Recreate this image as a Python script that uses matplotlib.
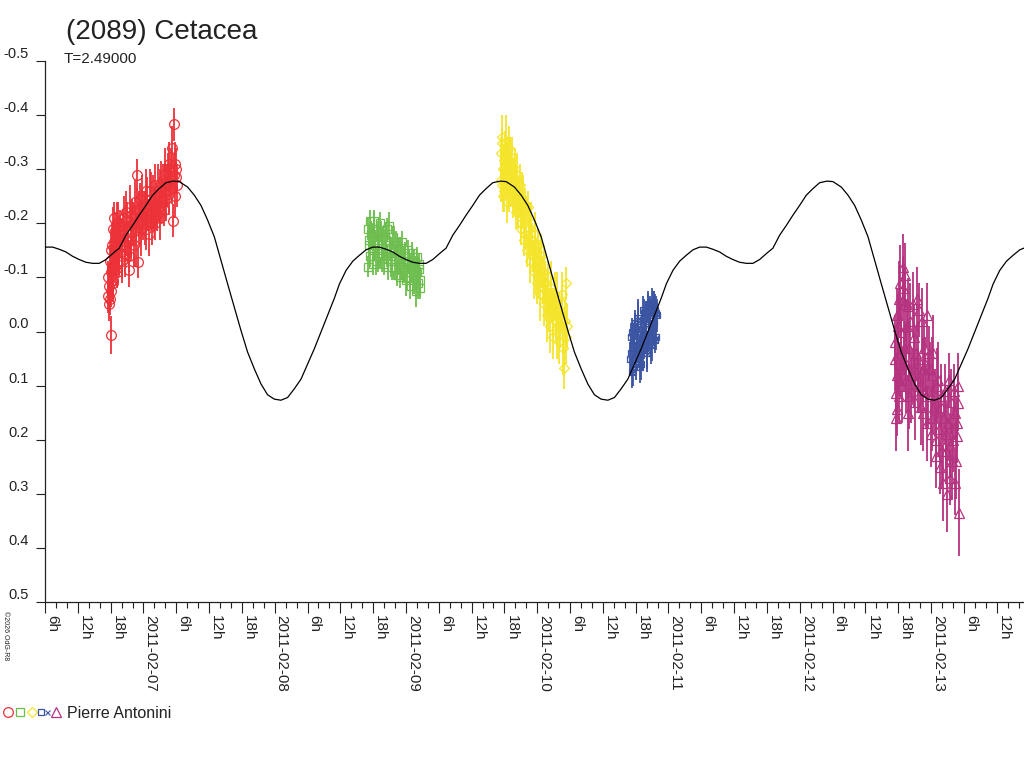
import numpy as np
import matplotlib
matplotlib.use("Agg")
import matplotlib.pyplot as plt
from matplotlib.ticker import FixedLocator, FuncFormatter, MultipleLocator
from matplotlib.legend_handler import HandlerTuple
from datetime import date, timedelta

plt.rcParams["font.family"] = ["Liberation Sans", "DejaVu Sans"]
plt.rcParams["axes.unicode_minus"] = False

# time axis: hours since 2011-02-06 00:00
START_DAY = date(2011, 2, 6)
X_RANGE_H = (6.0, 185.0)

# fitted light curve: one period (hours after maximum, mag)
PERIOD_H = 2.49 * 24
PEAK_H = 29.46
curve_phase_h = [0.0, 1.10, 2.61, 3.84, 5.06, 6.27, 7.50, 8.72, 9.93, 11.15,
                 12.37, 13.58, 14.81, 16.03, 17.24, 18.46, 19.69, 20.90, 22.12,
                 23.35, 24.56, 25.78, 27.00, 28.21, 29.43, 30.38, 31.59, 32.82,
                 34.04, 35.25, 36.47, 37.70, 38.90, 40.13, 41.35, 42.56, 43.78,
                 45.01, 46.22, 47.44, 48.67, 49.87, 51.10, 52.32, 53.53, 54.75,
                 55.98, 57.18, 58.41]
curve_mag = [-0.278, -0.277, -0.267, -0.252, -0.233, -0.206, -0.175, -0.131,
             -0.088, -0.045, -0.002, 0.038, 0.069, 0.097, 0.117, 0.125, 0.127,
             0.122, 0.106, 0.088, 0.060, 0.032, 0.001, -0.030, -0.061, -0.088,
             -0.113, -0.130, -0.141, -0.151, -0.156, -0.156, -0.152, -0.147,
             -0.139, -0.133, -0.128, -0.126, -0.126, -0.133, -0.144, -0.154,
             -0.178, -0.196, -0.215, -0.233, -0.252, -0.264, -0.275]

# observing sessions (all by Pierre Antonini): (hour, mag, error)
red_obs = [
    (17.5, -0.065, .03), (17.6, -0.10, .03), (17.7, -0.05, .03),
    (17.75, -0.085, .04), (17.8, -0.13, .03), (17.9, -0.06, .03),
    (18.0, -0.11, .04), (18.05, 0.007, .035), (18.1, -0.075, .03),
    (18.15, -0.15, .04), (18.2, -0.16, .04), (18.3, -0.12, .03),
    (18.35, -0.095, .04), (18.4, -0.19, .04), (18.5, -0.09, .03),
    (18.55, -0.14, .05), (18.6, -0.21, .03), (18.7, -0.165, .04),
    (18.8, -0.14, .04), (18.9, -0.115, .03), (19.0, -0.17, .05),
    (19.1, -0.20, .04), (19.2, -0.11, .03), (19.3, -0.15, .04),
    (19.4, -0.20, .04), (19.5, -0.13, .03), (19.6, -0.155, .05),
    (19.75, -0.185, .04), (19.9, -0.18, .03), (20.0, -0.14, .04),
    (20.1, -0.13, .04), (20.25, -0.195, .03), (20.4, -0.21, .04),
    (20.55, -0.15, .05), (20.7, -0.16, .03), (20.85, -0.22, .04),
    (21.0, -0.19, .05), (21.15, -0.165, .04), (21.3, -0.14, .03),
    (21.4, -0.113, .03), (21.5, -0.23, .04), (21.65, -0.185, .05),
    (21.8, -0.17, .04), (21.95, -0.215, .03), (22.1, -0.20, .04),
    (22.25, -0.16, .04), (22.4, -0.24, .04), (22.55, -0.19, .03),
    (22.7, -0.17, .05), (22.85, -0.225, .04), (22.9, -0.289, .03),
    (22.95, -0.128, .03), (23.1, -0.20, .04), (23.2, -0.22, .04),
    (23.35, -0.245, .03), (23.5, -0.19, .05), (23.65, -0.215, .04),
    (23.8, -0.25, .04), (23.95, -0.20, .03), (24.1, -0.23, .03),
    (24.25, -0.21, .05), (24.4, -0.26, .04), (24.55, -0.19, .04),
    (24.7, -0.235, .05), (24.85, -0.215, .03), (25.0, -0.18, .04),
    (25.15, -0.26, .04), (25.3, -0.22, .03), (25.45, -0.245, .05),
    (25.6, -0.20, .04), (25.75, -0.24, .05), (25.9, -0.225, .04),
    (26.05, -0.20, .03), (26.2, -0.27, .04), (26.35, -0.235, .04),
    (26.5, -0.215, .03), (26.65, -0.26, .05), (26.8, -0.23, .03),
    (26.95, -0.25, .05), (27.1, -0.21, .04), (27.25, -0.275, .04),
    (27.4, -0.24, .04), (27.55, -0.28, .03), (27.7, -0.225, .03),
    (27.85, -0.26, .05), (28.0, -0.29, .05), (28.15, -0.245, .04),
    (28.3, -0.27, .04), (28.45, -0.30, .03), (28.6, -0.255, .04),
    (28.75, -0.31, .04), (28.9, -0.28, .03), (29.05, -0.30, .04),
    (29.2, -0.265, .03), (29.3, -0.34, .04), (29.45, -0.205, .03),
    (29.5, -0.29, .04), (29.6, -0.383, .03), (29.7, -0.31, .04),
    (29.8, -0.25, .04), (29.9, -0.285, .03), (30.0, -0.30, .04),
    (30.1, -0.27, .04),
]

green_obs = [
    (65.0, -0.19, .02), (65.1, -0.12, .02), (65.2, -0.17, .025),
    (65.3, -0.16, .025), (65.4, -0.205, .02), (65.5, -0.14, .02),
    (65.65, -0.18, .025), (65.8, -0.175, .025), (65.9, -0.125, .02),
    (66.0, -0.15, .02), (66.15, -0.19, .03), (66.2, -0.205, .02),
    (66.35, -0.16, .025), (66.5, -0.13, .025), (66.65, -0.185, .02),
    (66.8, -0.17, .02), (66.95, -0.14, .03), (67.1, -0.145, .03),
    (67.25, -0.20, .02), (67.4, -0.185, .02), (67.55, -0.135, .025),
    (67.7, -0.155, .025), (67.85, -0.175, .02), (68.0, -0.125, .02),
    (68.15, -0.16, .03), (68.3, -0.17, .03), (68.45, -0.19, .02),
    (68.6, -0.14, .02), (68.75, -0.12, .025), (68.9, -0.195, .025),
    (69.05, -0.15, .02), (69.2, -0.155, .02), (69.35, -0.13, .03),
    (69.5, -0.12, .025), (69.65, -0.175, .02), (69.8, -0.165, .03),
    (69.95, -0.115, .02), (70.1, -0.14, .02), (70.25, -0.16, .025),
    (70.4, -0.105, .02), (70.55, -0.135, .03), (70.7, -0.15, .025),
    (70.85, -0.10, .02), (71.0, -0.125, .03), (71.15, -0.155, .02),
    (71.3, -0.165, .02), (71.45, -0.12, .025), (71.6, -0.115, .025),
    (71.75, -0.145, .02), (71.9, -0.14, .02), (72.05, -0.095, .03),
    (72.2, -0.10, .025), (72.35, -0.15, .02), (72.5, -0.13, .02),
    (72.65, -0.085, .025), (72.8, -0.11, .03), (72.95, -0.125, .02),
    (73.1, -0.145, .02), (73.25, -0.105, .025), (73.4, -0.095, .025),
    (73.55, -0.13, .02), (73.7, -0.12, .02), (73.85, -0.075, .03),
    (74.0, -0.137, .02), (74.1, -0.11, .025), (74.2, -0.09, .03),
    (74.3, -0.125, .02), (74.4, -0.115, .02), (74.5, -0.095, .025),
    (74.6, -0.08, .02),
]

yellow_obs = [
    (89.4, -0.33, .03), (89.45, -0.28, .04), (89.5, -0.27, .03),
    (89.55, -0.36, .04), (89.6, -0.348, .03), (89.7, -0.30, .04),
    (89.8, -0.25, .03), (89.9, -0.317, .03), (90.0, -0.26, .04),
    (90.1, -0.33, .04), (90.2, -0.35, .05), (90.3, -0.28, .03),
    (90.4, -0.29, .03), (90.5, -0.24, .04), (90.6, -0.32, .04),
    (90.7, -0.30, .03), (90.8, -0.25, .03), (90.9, -0.34, .04),
    (91.0, -0.31, .05), (91.15, -0.26, .03), (91.3, -0.28, .04),
    (91.45, -0.32, .04), (91.6, -0.24, .03), (91.75, -0.27, .05),
    (91.9, -0.30, .04), (92.05, -0.22, .03), (92.2, -0.26, .05),
    (92.35, -0.29, .04), (92.5, -0.22, .03), (92.65, -0.25, .04),
    (92.8, -0.27, .04), (92.95, -0.19, .03), (93.1, -0.20, .04),
    (93.25, -0.245, .05), (93.4, -0.24, .05), (93.55, -0.17, .03),
    (93.7, -0.18, .03), (93.85, -0.225, .04), (94.0, -0.21, .04),
    (94.15, -0.15, .03), (94.3, -0.23, .03), (94.45, -0.19, .05),
    (94.6, -0.16, .05), (94.75, -0.13, .04), (94.9, -0.20, .04),
    (95.05, -0.17, .03), (95.2, -0.14, .03), (95.35, -0.11, .05),
    (95.5, -0.18, .04), (95.65, -0.15, .04), (95.8, -0.12, .05),
    (95.95, -0.09, .04), (96.1, -0.16, .03), (96.25, -0.13, .04),
    (96.4, -0.10, .04), (96.55, -0.07, .05), (96.7, -0.14, .04),
    (96.85, -0.11, .03), (97.0, -0.08, .03), (97.15, -0.05, .04),
    (97.3, -0.11, .05), (97.45, -0.09, .04), (97.6, -0.06, .04),
    (97.75, -0.03, .05), (97.9, -0.10, .03), (98.05, -0.07, .04),
    (98.2, -0.04, .04), (98.35, -0.01, .05), (98.5, -0.08, .05),
    (98.65, -0.05, .03), (98.8, 0.011, .04), (98.95, -0.03, .04),
    (99.1, -0.05, .03), (99.25, -0.07, .04), (99.4, -0.02, .04),
    (99.55, 0.00, .05), (99.7, -0.06, .05), (99.85, -0.04, .03),
    (100.0, 0.02, .04), (100.15, -0.01, .04), (100.3, -0.03, .03),
    (100.45, -0.07, .04), (100.6, -0.05, .04), (100.75, 0.03, .05),
    (100.9, 0.067, .04), (101.05, -0.02, .04), (101.2, -0.089, .03),
    (101.3, 0.01, .05), (101.4, -0.01, .04),
]

blue_obs = [
    (113.0, 0.05, .03), (113.1, 0.04, .03), (113.2, 0.01, .025),
    (113.3, 0.00, .025), (113.4, 0.075, .03), (113.5, 0.07, .03),
    (113.6, 0.03, .035), (113.7, 0.02, .035), (113.8, -0.015, .025),
    (113.9, -0.01, .025), (114.0, 0.06, .03), (114.1, 0.05, .03),
    (114.2, 0.025, .03), (114.3, 0.015, .03), (114.4, -0.025, .035),
    (114.5, -0.02, .035), (114.6, 0.04, .025), (114.7, 0.03, .025),
    (114.8, 0.065, .03), (114.9, 0.06, .03), (115.0, 0.005, .03),
    (115.1, -0.005, .03), (115.2, 0.035, .035), (115.3, 0.025, .035),
    (115.4, -0.04, .025), (115.5, -0.035, .025), (115.6, 0.02, .03),
    (115.7, 0.01, .03), (115.8, -0.025, .03), (115.9, -0.02, .03),
    (116.0, 0.04, .035), (116.1, 0.035, .035), (116.2, -0.05, .025),
    (116.3, -0.045, .025), (116.4, 0.005, .03), (116.5, -0.005, .03),
    (116.6, -0.035, .03), (116.7, -0.03, .03), (116.8, 0.025, .035),
    (116.9, 0.02, .035), (117.0, -0.055, .025), (117.1, -0.05, .025),
    (117.2, -0.01, .03), (117.3, -0.015, .03), (117.4, -0.045, .03),
    (117.5, -0.04, .03), (117.6, 0.015, .025), (117.7, 0.01, .025),
    (117.8, -0.035, .03), (117.9, -0.03, .03),
]

magenta_obs = [
    (161.4, 0.05, .06), (161.5, 0.02, .05), (161.55, 0.16, .06),
    (161.6, 0.113, .06), (161.7, -0.03, .05), (161.75, 0.08, .07),
    (161.8, 0.143, .05), (161.9, 0.044, .06), (162.0, -0.01, .06),
    (162.1, -0.06, .07), (162.2, 0.12, .05), (162.3, 0.07, .05),
    (162.4, -0.09, .07), (162.5, 0.00, .06), (162.6, 0.04, .06),
    (162.7, 0.10, .07), (162.8, -0.12, .06), (162.9, -0.08, .06),
    (163.0, 0.06, .05), (163.1, 0.03, .05), (163.2, -0.05, .07),
    (163.3, -0.104, .06), (163.4, 0.09, .06), (163.5, 0.06, .07),
    (163.6, -0.01, .05), (163.7, -0.048, .05), (163.8, 0.15, .07),
    (163.9, 0.12, .06), (164.05, 0.03, .05), (164.2, -0.02, .07),
    (164.35, 0.11, .06), (164.5, 0.08, .05), (164.65, -0.05, .06),
    (164.8, 0.01, .06), (164.95, 0.07, .07), (165.1, 0.13, .07),
    (165.25, 0.04, .05), (165.4, -0.06, .06), (165.55, 0.09, .06),
    (165.7, 0.05, .07), (165.85, -0.04, .05), (166.0, 0.10, .05),
    (166.15, 0.14, .07), (166.3, -0.02, .06), (166.45, 0.07, .06),
    (166.6, 0.15, .07), (166.75, 0.03, .05), (166.9, 0.06, .05),
    (167.05, 0.12, .06), (167.2, -0.03, .06), (167.35, 0.17, .07),
    (167.5, 0.11, .07), (167.65, 0.04, .05), (167.8, 0.07, .05),
    (167.95, 0.19, .06), (168.1, 0.16, .06), (168.25, 0.08, .07),
    (168.4, 0.04, .07), (168.55, 0.14, .05), (168.7, 0.12, .05),
    (168.85, 0.23, .06), (169.0, 0.20, .06), (169.15, 0.10, .07),
    (169.3, 0.09, .07), (169.45, 0.18, .05), (169.6, 0.25, .05),
    (169.75, 0.12, .06), (169.9, 0.14, .06), (170.05, 0.22, .07),
    (170.2, 0.28, .07), (170.35, 0.16, .05), (170.5, 0.11, .05),
    (170.65, 0.19, .06), (170.8, 0.22, .06), (170.95, 0.30, .07),
    (171.1, 0.17, .07), (171.25, 0.09, .05), (171.4, 0.27, .05),
    (171.55, 0.21, .06), (171.7, 0.13, .06), (171.85, 0.24, .07),
    (172.0, 0.20, .06), (172.15, 0.11, .05), (172.3, 0.15, .05),
    (172.45, 0.28, .06), (172.6, 0.24, .07), (172.75, 0.17, .05),
    (172.8, 0.193, .05), (172.9, 0.10, .06), (173.0, 0.133, .05),
    (173.1, 0.335, .08),
]

TEXT = "#222222"
BLUE = "#3B55A3"

sessions = [
    (red_obs, "#EC3238", "o", 7.0),
    (green_obs, "#6DBE4F", "s", 5.5),
    (yellow_obs, "#F4E52B", "D", 5.0),
    (blue_obs, BLUE, "s", 4.5),
    (magenta_obs, "#B5327F", "^", 6.5),
]

fig = plt.figure(figsize=(10.24, 7.68), dpi=100)
ax = fig.add_axes([45 / 1024, 166 / 768, 979 / 1024, 541 / 768])

handles = []
for obs, color, marker, ms in sessions:
    t, mag, err = (np.array(c) for c in zip(*obs))
    h, = ax.plot(t, mag, linestyle="none", marker=marker, ms=ms,
                 mfc="none", mec=color, mew=0.9, zorder=2)
    if color == BLUE:
        hx, = ax.plot(t, mag, linestyle="none", marker="x", ms=ms * 0.8,
                      mec=color, mew=0.8, zorder=2)
        h = (h, hx)
    ax.errorbar(t, mag, yerr=err, fmt="none", ecolor=color, elinewidth=1.3,
                capsize=0, zorder=2.5)
    handles.append(h)

# model curve, repeated over the whole window
phase = np.array(curve_phase_h)
cmag = np.array(curve_mag)
ct, cm = [], []
for k in range(-1, 4):
    ct.append(PEAK_H + k * PERIOD_H + phase)
    cm.append(cmag)
ax.plot(np.concatenate(ct), np.concatenate(cm), color="black", lw=0.9,
        zorder=4)

ax.set_xlim(*X_RANGE_H)
ax.set_ylim(0.5, -0.5)

for side in ("top", "right"):
    ax.spines[side].set_visible(False)
for side in ("left", "bottom"):
    ax.spines[side].set_color(TEXT)
    ax.spines[side].set_linewidth(0.9)

ax.yaxis.set_major_locator(FixedLocator(np.round(np.arange(-0.5, 0.51, 0.1), 1)))
ax.yaxis.set_major_formatter(FuncFormatter(lambda v, p: f"{v + 0.0:.1f}"))
ax.xaxis.set_major_locator(MultipleLocator(6))
ax.xaxis.set_minor_locator(MultipleLocator(2))


def hour_label(h, pos):
    h = int(round(h))
    if h % 24 == 0:
        return (START_DAY + timedelta(days=h // 24)).isoformat()
    return f"{h % 24}h"


ax.xaxis.set_major_formatter(FuncFormatter(hour_label))

ax.tick_params(axis="y", direction="out", length=6.5, width=0.8, color=TEXT,
               labelcolor=TEXT, labelsize=10.5, pad=5)
ax.tick_params(axis="x", which="major", direction="out", length=8, width=0.8,
               color=TEXT, labelcolor=TEXT, labelsize=11, pad=1.5,
               labelrotation=-90)
ax.tick_params(axis="x", which="minor", direction="out", length=4.5,
               width=0.8, color=TEXT)
plt.setp(ax.get_yticklabels(), va="bottom")
plt.setp(ax.get_xticklabels(), ha="left")

fig.text(66 / 1024, 1 - 39 / 768, "(2089) Cetacea", fontsize=20, color=TEXT,
         va="baseline")
fig.text(64 / 1024, 1 - 63 / 768, "T=2.49000", fontsize=11, color=TEXT,
         va="baseline")
fig.text(2 / 1024, 1 - 611 / 768, "\u00a92026 OdG-R8", fontsize=5,
         color=TEXT, rotation=-90, va="top", ha="left")

fig.legend([tuple(handles)], ["Pierre Antonini"],
           handler_map={tuple: HandlerTuple(ndivide=None, pad=0.1)},
           loc="center left", bbox_to_anchor=(0, 1 - 713 / 768),
           frameon=False, fontsize=11.5, handlelength=3.6, handletextpad=0.4,
           borderpad=0.2, borderaxespad=0, labelcolor=TEXT)

fig.savefig("out.png", dpi=100)
